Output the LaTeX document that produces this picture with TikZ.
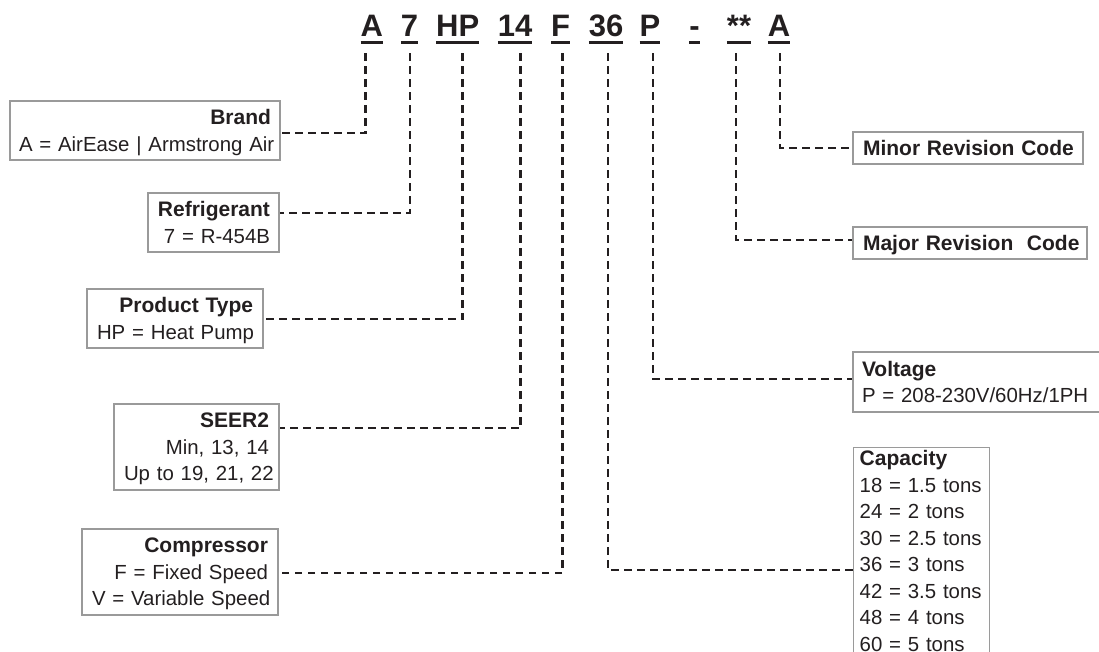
\documentclass[tikz,border=0pt]{standalone}
\usepackage{fontspec}
\setmainfont{Liberation Sans}
\definecolor{ink}{HTML}{231F20}
\definecolor{frame}{HTML}{9A9A9A}
\newcommand\codeul[1]{\setbox0=\hbox{#1}\rlap{\rule[-7pt]{\wd0}{3.2pt}}\box0}
\newcommand\hd[1]{\mbox{\fontsize{21}{26.5}\selectfont\bfseries #1}}
\begin{document}
\begin{tikzpicture}[x=1pt,y=-1pt,
  code/.style={font=\fontsize{31}{31}\selectfont\bfseries, text=ink, inner sep=0pt, anchor=base},
  lbox/.style={draw=frame, line width=1.4pt, text=ink, font=\fontsize{20.4}{26.5}\selectfont,
    align=right, inner xsep=10pt, inner ysep=0pt},
  rbox/.style={draw=frame, line width=1.4pt, text=ink, font=\fontsize{20.4}{26.5}\selectfont,
    align=left, inner xsep=10pt, inner ysep=0pt},
  conn/.style={draw=ink, line width=2.8pt, dash pattern=on 7.5pt off 5.5pt}
]
\useasboundingbox (0,0) rectangle (1099,652);

% code letters
\node[code] (cA)    at (371.7,37) {\codeul{A}};
\node[code] (c7)    at (409.5,37) {\codeul{7}};
\node[code] (cHP)   at (457.7,37) {\codeul{HP}};
\node[code] (c14)   at (515,37)   {\codeul{14}};
\node[code] (cF)    at (560.5,37) {\codeul{F}};
\node[code] (c36)   at (606,37)   {\codeul{36}};
\node[code] (cP)    at (650,37)   {\codeul{P}};
\node[code] (cDash) at (694.5,37) {\codeul{-}};
\node[code] (cStar) at (739,37)   {\codeul{**}};
\node[code] (cA2)   at (779,37)   {\codeul{A}};

% left boxes
\node[lbox, inner xsep=9pt, text width=252pt, minimum height=59pt, text depth=26.5pt] (brand) at (145,130.5)
  {\hd{Brand}\\\mbox{A = AirEase | Armstrong Air}};
\node[lbox, inner xsep=9pt, text width=113pt, minimum height=59pt, text depth=26.5pt] (refr) at (213.5,222.5)
  {\hd{Refrigerant}\\\mbox{7 = R-454B}};
\node[lbox, text width=156pt, minimum height=59pt, text depth=26.5pt] (ptype) at (175,318.5)
  {\hd{Product Type}\\\mbox{HP = Heat Pump}};
\node[lbox, text width=145pt, minimum height=86pt, text depth=53pt] (seer) at (196.5,447)
  {\hd{SEER2}\\\mbox{Min, 13, 14}\\\mbox{Up to 19, 21, 22}};
\node[lbox, text width=176pt, minimum height=86pt, text depth=53pt] (comp) at (180,572)
  {\hd{Compressor}\\\mbox{F = Fixed Speed}\\\mbox{V = Variable Speed}};

% right boxes
\node[rbox, text width=210pt, minimum height=32pt, text depth=0pt] (minor) at (968,148)
  {\hd{Minor Revision Code}};
\node[rbox, text width=214pt, minimum height=32pt, text depth=0pt] (major) at (970,243)
  {\hd{Major Revision\ \ Code}};
\node[rbox, inner xsep=9pt, text width=235pt, minimum height=60pt, text depth=26.5pt] (volt) at (979.5,382)
  {\hd{Voltage}\\\mbox{P = 208-230V/60Hz/1PH}};
\node[rbox, inner xsep=6pt, inner ysep=3pt, text width=124pt, text depth=215pt, anchor=north west] (cap) at (853,447)
  {\hd{Capacity}\\\mbox{18 = 1.5 tons}\\\mbox{24 = 2 tons}\\\mbox{30 = 2.5 tons}\\\mbox{36 = 3 tons}\\\mbox{42 = 3.5 tons}\\\mbox{48 = 4 tons}\\\mbox{60 = 5 tons}};

% connectors
\draw[conn] ([xshift=-6pt,yshift=-9pt]cA.south) |- (brand.east |- 0,133);
\draw[conn] ([xshift=0.5pt,yshift=-9pt]c7.south) |- (refr.east |- 0,213);
\draw[conn] ([xshift=5pt,yshift=-9pt]cHP.south) |- (ptype.east |- 0,319);
\draw[conn] ([xshift=5.7pt,yshift=-9pt]c14.south) |- (seer.east |- 0,428);
\draw[conn] ([xshift=1.8pt,yshift=-9pt]cF.south) |- (comp.east |- 0,573);
\draw[conn] ([xshift=2pt,yshift=-9pt]c36.south) |- (cap.west |- 0,570);
\draw[conn] ([xshift=3pt,yshift=-9pt]cP.south) |- (volt.west |- 0,379);
\draw[conn] ([xshift=-3pt,yshift=-9pt]cStar.south) |- (major.west |- 0,240);
\draw[conn] ([xshift=1pt,yshift=-9pt]cA2.south) |- (minor.west |- 0,148);
\end{tikzpicture}
\end{document}
